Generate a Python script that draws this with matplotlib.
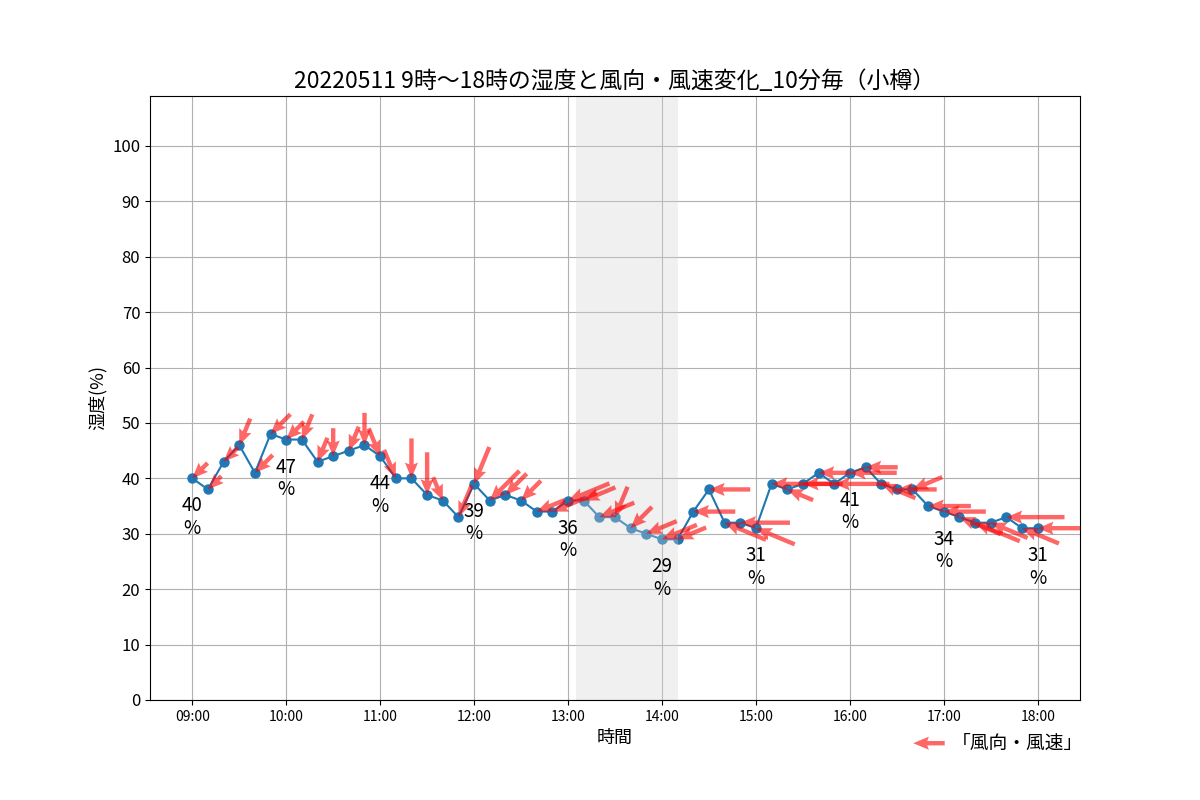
import numpy as np
import matplotlib
matplotlib.use('Agg')
import matplotlib.pyplot as plt

plt.rcParams['font.family'] = ['Noto Sans CJK JP', 'DejaVu Sans']

# 10分毎の時刻 (09:00〜18:00)
times = ['09:00', '09:10', '09:20', '09:30', '09:40', '09:50',
         '10:00', '10:10', '10:20', '10:30', '10:40', '10:50',
         '11:00', '11:10', '11:20', '11:30', '11:40', '11:50',
         '12:00', '12:10', '12:20', '12:30', '12:40', '12:50',
         '13:00', '13:10', '13:20', '13:30', '13:40', '13:50',
         '14:00', '14:10', '14:20', '14:30', '14:40', '14:50',
         '15:00', '15:10', '15:20', '15:30', '15:40', '15:50',
         '16:00', '16:10', '16:20', '16:30', '16:40', '16:50',
         '17:00', '17:10', '17:20', '17:30', '17:40', '17:50',
         '18:00']

# 湿度(%)
humidity = [40, 38, 43, 46, 41, 48,
            47, 47, 43, 44, 45, 46,
            44, 40, 40, 37, 36, 33,
            39, 36, 37, 36, 34, 34,
            36, 36, 33, 33, 31, 30,
            29, 29, 34, 38, 32, 32,
            31, 39, 38, 39, 41, 39,
            41, 42, 39, 38, 38, 35,
            34, 33, 32, 32, 33, 31,
            31]

# 風向
wind_dir = ['北東', '北東', '北東', '北北東', '北東', '北東',
            '北東', '北北東', '北北東', '北', '北北東', '北',
            '北北西', '北北西', '北', '北', '北北西', '北北東',
            '北北東', '北東', '北東', '北東', '東北東', '東北東',
            '東北東', '東北東', '東北東', '北北東', '北東', '東北東',
            '東北東', '東北東', '東', '東', '東南東', '東',
            '東南東', '東', '東南東', '東', '東', '東',
            '東', '東', '東南東', '東', '東北東', '東',
            '東', '東南東', '東南東', '東南東', '東', '東南東',
            '東']

# 風速(m/s)
wind_speed = [3.1, 2.7, 2.9, 4.1, 3.6, 4.0,
              3.6, 3.9, 3.7, 4.0, 3.7, 4.6,
              4.3, 4.4, 5.7, 6.1, 3.6, 4.9,
              5.7, 6.0, 4.3, 4.0, 4.3, 6.9,
              6.4, 4.9, 5.4, 4.7, 4.3, 4.7,
              5.4, 4.4, 6.0, 5.9, 6.4, 7.1,
              6.0, 8.6, 4.0, 5.7, 4.6, 7.9,
              6.7, 4.6, 5.3, 5.7, 4.6, 6.1,
              6.0, 6.4, 6.9, 5.7, 8.3, 5.7,
              8.6]

compass = ['北', '北北東', '北東', '東北東', '東', '東南東', '南東', '南南東',
           '南', '南南西', '南西', '西南西', '西', '西北西', '北西', '北北西']

x = np.arange(len(times))
deg = np.array([compass.index(d) * 22.5 for d in wind_dir])
rad = np.deg2rad(deg)
spd = np.array(wind_speed)
# 風が吹いていく向き
u = -spd * np.sin(rad)
v = -spd * np.cos(rad)

fig = plt.figure(figsize=(12, 8), dpi=100)
ax = fig.add_axes([0.125, 0.125, 0.775, 0.755])

ax.plot(x, humidity, marker='o', markersize=6.5, color='#1f77b4', zorder=2)

# 毎正時の値を表示
for i in range(0, len(x), 6):
    ax.text(x[i], humidity[i] - 7, f'{humidity[i]}\n%', ha='center', va='center',
            fontsize=13.5, linespacing=1.1)

q = ax.quiver(x, humidity, u, v, color='red', alpha=0.6, pivot='tip',
              angles='uv', scale_units='dots', scale=1 / 7, width=0.0047,
              headwidth=3, headlength=3.6, headaxislength=3.2, zorder=3)
ax.quiverkey(q, 0.761, 0.071, 4.5, '「風向・風速」', labelpos='E', angle=180,
             labelsep=0.39, coordinates='figure', fontproperties={'size': 13.5})

ax.axvspan(24.5, 31, color='lightgray', alpha=0.33, lw=0, zorder=2.5)

ax.set_xlim(-2.7, 56.7)
ax.set_ylim(0, 109)
ax.set_yticks(range(0, 101, 10))
ax.set_xticks(x[::6])
ax.set_xticklabels(times[::6], fontsize=10)
ax.tick_params(axis='y', labelsize=12)
ax.grid(True)

ax.set_title('20220511 9時～18時の湿度と風向・風速変化_10分毎（小樽）', fontsize=16.5)
ax.set_xlabel('時間', fontsize=13)
ax.set_ylabel('湿度(%)', fontsize=13)

fig.savefig('out.png', dpi=100)
